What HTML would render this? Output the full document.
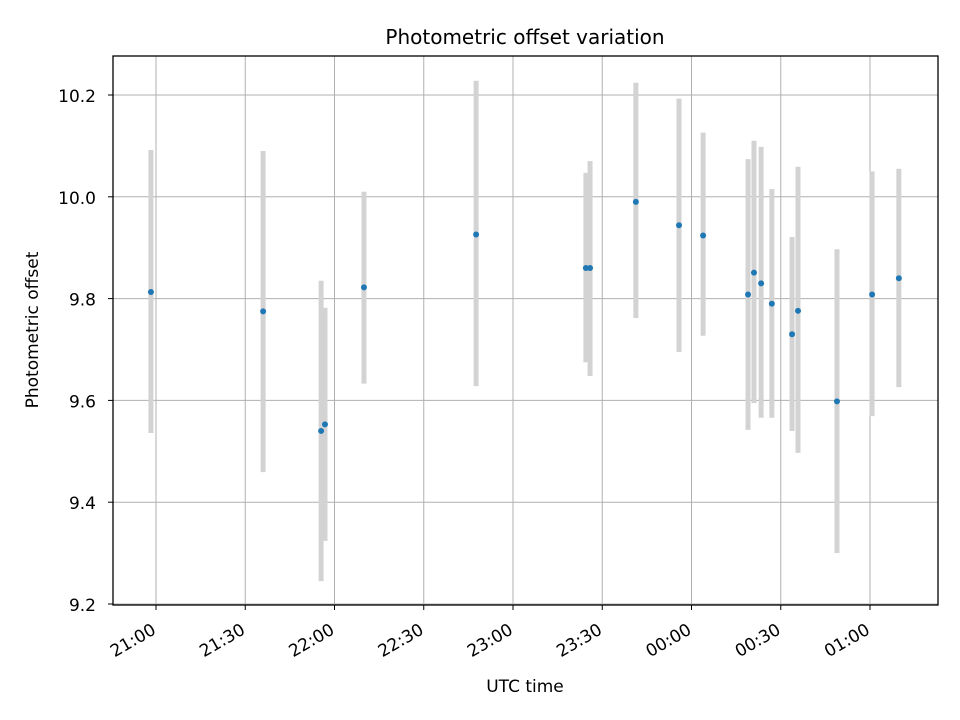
<!DOCTYPE html>
<html><head><meta charset="utf-8"><style>
body{margin:0;background:#fff;}
svg{display:block;font-family:"DejaVu Sans","Liberation Sans",sans-serif;}
</style></head><body>
<svg id="chart" width="960" height="720" xmlns="http://www.w3.org/2000/svg">
<rect width="960" height="720" fill="#fff"/>
<text x="525" y="44" font-size="20" text-anchor="middle" fill="#000">Photometric offset variation</text>
<g id="grid"></g><g id="bars"></g><g id="pts"></g><g id="axes"></g>
<text x="525" y="692" font-size="17" text-anchor="middle">UTC time</text>
<text transform="translate(38,330) rotate(-90)" font-size="17" text-anchor="middle">Photometric offset</text>
</svg>
<script>
// minutes after 21:00 UTC
const times=[-1.7,36.0,55.5,56.8,69.9,107.6,144.5,145.9,161.3,175.8,183.9,199,201,203.4,207,213.8,215.8,228.9,240.7,249.7];
const values=[9.813,9.775,9.54,9.553,9.822,9.926,9.86,9.86,9.99,9.944,9.924,9.808,9.851,9.83,9.79,9.73,9.776,9.598,9.808,9.84];
const upper=[10.092,10.09,9.835,9.782,10.01,10.228,10.047,10.07,10.224,10.193,10.126,10.074,10.11,10.098,10.015,9.921,10.059,9.897,10.05,10.055];
const lower=[9.536,9.459,9.245,9.324,9.633,9.628,9.675,9.648,9.762,9.695,9.727,9.542,9.595,9.566,9.566,9.54,9.497,9.3,9.569,9.626];
const xTicks=[0,30,60,90,120,150,180,210,240];
const xTickLabels=["21:00","21:30","22:00","22:30","23:00","23:30","00:00","00:30","01:00"];
const yTicks=[9.2,9.4,9.6,9.8,10.0,10.2];
const yTickLabels=["9.2","9.4","9.6","9.8","10.0","10.2"];
const L=113,R=938,T=56,B=605;
const xs=m=>156+m*(89.25/30);
const ys=v=>604-(v-9.2)*(509/1.0);
const NS="http://www.w3.org/2000/svg";
function mk(p,tag,a){const e=document.createElementNS(NS,tag);for(const k in a)e.setAttribute(k,a[k]);document.getElementById(p).appendChild(e);return e;}
xTicks.forEach((t,i)=>{const x=xs(t);
 const g=mk('grid','line',{x1:x,x2:x,y1:T,y2:B,stroke:'#b0b0b0','stroke-width':1});
 
 
 const tk=mk('axes','line',{x1:x,x2:x,y1:B,y2:B+5,stroke:'#000'});
 
 
 const ex=x+1,ey=B+28;
 const tx=mk('axes','text',{x:ex,y:ey,'font-size':17,'text-anchor':'end',transform:`rotate(-30 ${ex} ${ey})`});
 tx.textContent=xTickLabels[i];
 
 
});
yTicks.forEach((t,i)=>{const y=ys(t);
 const g=mk('grid','line',{x1:L,x2:R,y1:y,y2:y,stroke:'#b0b0b0','stroke-width':1});
 
 
 const tk=mk('axes','line',{x1:L-5,x2:L,y1:y,y2:y,stroke:'#000'});
 
 
 const tx=mk('axes','text',{x:L-17,y:y+7,'font-size':17,'text-anchor':'end'});
 tx.textContent=yTickLabels[i];
 
 
});
times.forEach((t,i)=>{const x=xs(t);
 const b=mk('bars','line',{x1:x,x2:x,y1:ys(upper[i]),y2:ys(lower[i]),stroke:'#d3d3d3','stroke-width':5});
 
 
 const c=mk('pts','circle',{cx:x,cy:ys(values[i]),r:3,fill:'#1f77b4'});
 
 
});
const f=mk('axes','rect',{x:L,y:T,width:R-L,height:B-T,fill:'none',stroke:'#000','stroke-width':1.3});


</script>
</body></html>
